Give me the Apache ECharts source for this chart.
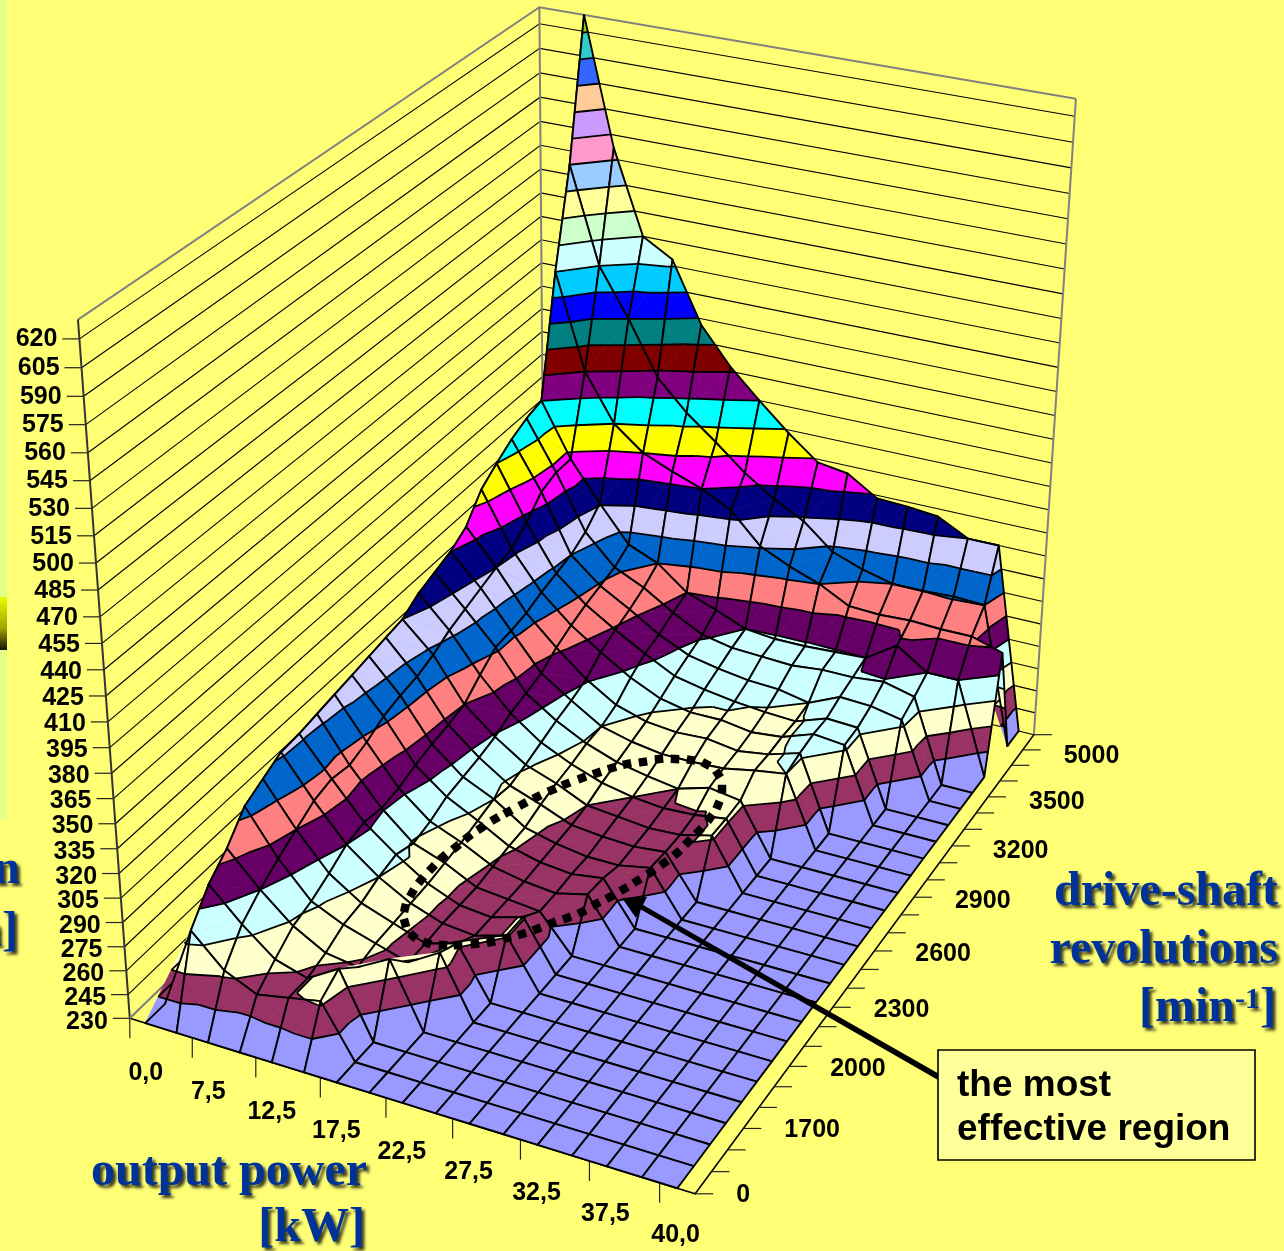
<!DOCTYPE html><html><head><meta charset="utf-8">
<style>html,body{margin:0;padding:0;background:#FFFF75}#c{width:1284px;height:1251px}</style>
<script src="https://cdn.jsdelivr.net/npm/echarts@6/dist/echarts.min.js"></script></head><body><div id="c"></div>
<script>
const powerLabels=['0,0','7,5','12,5','17,5','22,5','27,5','32,5','37,5','40,0'];
const rpmLabels=['0','1700','2000','2300','2600','2900','3200','3500','5000'];
const levelLabels=[230,245,260,275,290,305,320,335,350,365,380,395,410,425,440,455,470,485,500,515,530,545,560,575,590,605,620];
const bandColors=['#9999FF','#993366','#FFFFCC','#CCFFFF','#660066','#FF8080','#0066CC','#CCCCFF','#000080','#FF00FF','#FFFF00','#00FFFF','#800080','#800000','#008080','#0000FF','#00CCFF','#CCFFFF','#CCFFCC','#FFFF99','#99CCFF','#FF99CC','#CC99FF','#FFCC99','#3366FF','#33CCCC','#99CC00'];
// specific consumption per drive-shaft row (low rpm first), one value per output-power column
const row00=[230,230,230,230,230,230,230,230,230,230,230,230,230,230,230,230,230];
const row01=[230,282,263,254,258,262,230,230,230,230,230,230,230,230,230,230,230];
const row02=[230,299,280,264,258,270,230,230,230,230,230,230,230,230,230,230,230];
const row03=[230,310,290,273,262,259,270,230,230,230,230,230,230,230,230,230,230];
const row04=[230,325,298,277,268,262,256,268,230,230,230,230,230,230,230,230,230];
const row05=[230,331,305,283,270,263,256,262,230,230,230,230,230,230,230,230,230];
const row06=[230,337,312,290,275,264,257,255,261,230,230,230,230,230,230,230,230];
const row07=[230,338,315,293,278,265,257,255,261,230,230,230,230,230,230,230,230];
const row08=[230,340,313,291,274,267,257,255,253,230,230,230,230,230,230,230,230];
const row09=[230,342,317,293,277,269,259,255,253,258,230,230,230,230,230,230,230];
const row10=[230,344,323,297,282,272,261,256,254,257,230,230,230,230,230,230,230];
const row11=[230,346,326,300,284,275,262,257,254,254,258,230,230,230,230,230,230];
const row12=[230,348,328,302,286,273,266,258,256,255,257,230,230,230,230,230,230];
const row13=[230,350,332,305,289,276,269,260,258,256,257,262,230,230,230,230,230];
const row14=[230,357,338,314,294,280,271,264,260,258,259,262,230,230,230,230,230];
const row15=[230,361,342,322,297,284,274,267,263,260,266,263,230,230,230,230,230];
const row16=[230,365,346,323,300,287,275,270,267,267,268,272,275,230,230,230,230];
const row17=[230,372,350,325,307,291,279,273,271,272,269,272,278,230,230,230,230];
const row18=[230,387,353,329,312,299,287,278,274,274,271,273,280,278,230,230,230];
const row19=[230,395,361,332,316,304,293,283,279,276,274,273,280,279,230,230,230];
const row20=[230,402,372,335,319,308,296,287,283,280,279,275,284,283,279,230,230];
const row21=[230,407,376,341,322,313,301,291,287,286,285,287,287,289,284,230,230];
const row22=[230,410,376,351,328,320,305,298,290,288,288,289,290,303,290,290,230];
const row23=[230,485,425,395,380,372,365,355,336,327,320,310,309,310,309,309,303];
const row24=[230,545,485,455,421,402,387,371,358,348,332,325,320,320,321,320,230];
const row25=[230,630,552,500,489,451,428,410,393,378,375,363,362,360,350,350,230];
const zRows=[row00,row01,row02,row03,row04,row05,row06,row07,row08,row09,row10,row11,row12,row13,row14,row15,row16,row17,row18,row19,row20,row21,row22,row23,row24,row25];
const NX=17,NY=26,ZMIN=230,ZTOP=630;
const wz=z=>(z-230)/400;
const calib=[[0,0,0,130,1022],[1,0,0,695,1190],[1,1,0,1035,737],[0,1,0,544,607],[0,0,1,78,318],[1,1,1,1076,97],[0,1,1,539,8],
[0,0,wz(620),80,337],[0,0,wz(425),106,697],[0,1,wz(620),539,25],[0,1,wz(410),542,358],[1,1,wz(365),1048,534],[8/17,0,0,387,1100],[1,12/25,0,873,953],[1,3/25,0,742,1127]];
function solveCam(){const n=11,A=Array.from({length:n},()=>new Array(n+1).fill(0));
 const add=(r,b)=>{for(let a=0;a<n;a++){for(let c=0;c<n;c++)A[a][c]+=r[a]*r[c];A[a][n]+=r[a]*b;}};
 for(const [u,v,w,x,y] of calib){const X=x/1000,Y=y/1000;add([u,v,w,1,0,0,0,0,-X*u,-X*v,-X*w],X);add([0,0,0,0,u,v,w,1,-Y*u,-Y*v,-Y*w],Y);}
 for(let a=0;a<n;a++){let m=a;for(let r=a+1;r<n;r++)if(Math.abs(A[r][a])>Math.abs(A[m][a]))m=r;[A[a],A[m]]=[A[m],A[a]];
  for(let r=0;r<n;r++)if(r!==a){const f=A[r][a]/A[a][a];for(let c=a;c<=n;c++)A[r][c]-=f*A[a][c];}}
 return A.map((r,a)=>r[n]/r[a]);}
const cam=solveCam();
function project(u,v,w){const d=cam[8]*u+cam[9]*v+cam[10]*w+1;return[1000*(cam[0]*u+cam[1]*v+cam[2]*w+cam[3])/d,1000*(cam[4]*u+cam[5]*v+cam[6]*w+cam[7])/d];}
const U=i=>(i+.5)/NX,V=j=>j/(NY-1),W=z=>(z-ZMIN)/(ZTOP-ZMIN);
function clip(poly,L,H){let out=poly;const c=(pts,inside,t)=>{const o=[];for(let k=0;k<pts.length;k++){const a=pts[k],b=pts[(k+1)%pts.length],ia=inside(a[3]),ib=inside(b[3]);if(ia)o.push(a);if(ia!==ib){const s=(t-a[3])/(b[3]-a[3]);o.push([a[0]+s*(b[0]-a[0]),a[1]+s*(b[1]-a[1]),a[2]+s*(b[2]-a[2]),t]);}}return o;};
 out=c(out,z=>z>=L,L);if(out.length)out=c(out,z=>z<=H,H);return out;}
const cells=[];for(let j=NY-2;j>=0;j--)for(let i=0;i<NX-1;i++)cells.push([i,j,zRows[j][i],zRows[j][i+1],zRows[j+1][i+1],zRows[j+1][i]]);
function renderCell(params,api){const i=api.value(0),j=api.value(1),z=[api.value(2),api.value(3),api.value(4),api.value(5)];
 const V3=[[U(i),V(j),W(z[0]),z[0]],[U(i+1),V(j),W(z[1]),z[1]],[U(i+1),V(j+1),W(z[2]),z[2]],[U(i),V(j+1),W(z[3]),z[3]]];
 const S=q=>api.coord(project(q[0],q[1],q[2]));const ch=[];
 const tris=[[V3[3],V3[0],V3[2]],[V3[0],V3[1],V3[2]]];
 for(const tri of tris){
  for(let b=0;b<bandColors.length;b++){const L=ZMIN+15*b;const mn=Math.min(tri[0][3],tri[1][3],tri[2][3]),mx=Math.max(tri[0][3],tri[1][3],tri[2][3]);if(mx<L||mn>L+15)continue;if(b>0&&mx===L)continue;if(mn===L+15)continue;
   const pg=clip(tri,L,L+15);if(pg.length<3)continue;const c=bandColors[b];ch.push({type:'polygon',shape:{points:pg.map(S)},style:{fill:c,stroke:c,lineWidth:.6}});}
 }
 for(const tri of tris){
  for(let b=1;b<bandColors.length;b++){const L=ZMIN+15*b;const pts=[];for(let k=0;k<3;k++){const a=tri[k],c=tri[(k+1)%3];if((a[3]<L)!==(c[3]<L)){const s=(L-a[3])/(c[3]-a[3]);pts.push(S([a[0]+s*(c[0]-a[0]),a[1]+s*(c[1]-a[1]),a[2]+s*(c[2]-a[2])]));}}
   if(pts.length===2)ch.push({type:'line',shape:{x1:pts[0][0],y1:pts[0][1],x2:pts[1][0],y2:pts[1][1]},style:{stroke:'#000',lineWidth:1.8}});}
 }
 ch.push({type:'polygon',shape:{points:V3.map(S)},style:{fill:'none',stroke:'#000',lineWidth:1.9,lineJoin:'round'}});
 return{type:'group',children:ch,z2:params.dataIndex};}
function renderWalls(params,api){const k=api.value(0),w=W(k),ch=[];
 const a=api.coord(project(0,0,w)),d=api.coord(project(0,1,w)),c=api.coord(project(1,1,w));
 const top=k===ZTOP;ch.push({type:'polyline',shape:{points:[a,d,c]},style:{fill:'none',stroke:top?'#808080':'#000',lineWidth:top?2:1.1}});
 if(!top){ch.push({type:'line',shape:{x1:a[0],y1:a[1],x2:a[0]-17,y2:a[1]},style:{stroke:'#222',lineWidth:1.2}});
  ch.push({type:'text',style:{x:a[0]-22,y:a[1]+4-w*4,text:String(k),textAlign:'right',textVerticalAlign:'middle',font:'bold 25px "Liberation Sans"',fill:'#000'}});}
 return{type:'group',children:ch};}
function renderVerticals(params,api){const u=api.value(0),v=api.value(1);const p=api.coord(project(u,v,0)),q=api.coord(project(u,v,1));
 return{type:'line',shape:{x1:p[0],y1:p[1],x2:q[0],y2:q[1]},style:{stroke:api.value(2)?'#333':'#808080',lineWidth:2}};}
function renderFloor(params,api){const a=api.coord(project(0,0,0)),b=api.coord(project(1,0,0)),c=api.coord(project(1,1,0)),d=api.coord(project(0,1,0));
 const ch=[{type:'polyline',shape:{points:[a,b,c]},style:{fill:'none',stroke:'#000',lineWidth:1.5}},{type:'line',shape:{x1:a[0],y1:a[1],x2:d[0],y2:d[1]},style:{stroke:'#808080',lineWidth:2}}];
 for(let k=0;k<powerLabels.length;k++){const p=api.coord(project(2*k/NX,0,0));ch.push({type:'line',shape:{x1:p[0],y1:p[1],x2:p[0],y2:p[1]+20},style:{stroke:'#222',lineWidth:1.2}});
  ch.push({type:'text',style:{x:p[0]+16,y:p[1]+55-k*.3,text:powerLabels[k],textAlign:'center',textVerticalAlign:'middle',font:'bold 25px "Liberation Sans"',fill:'#000'}});}
 for(let k=0;k<NY;k++){const p=api.coord(project(1,k/(NY-1),0));ch.push({type:'line',shape:{x1:p[0],y1:p[1],x2:p[0]+18,y2:p[1]},style:{stroke:'#222',lineWidth:1.2}});
  if(k%3===0&&rpmLabels[k/3]!==undefined)ch.push({type:'text',style:{x:p[0]+41,y:p[1]+1+k*.22,text:rpmLabels[k/3],textAlign:'left',textVerticalAlign:'middle',font:'bold 25px "Liberation Sans"',fill:'#000'}});}
 return{type:'group',children:ch};}
const dotted=[[405,923],[413,936],[427,943],[443,945],[458,945],[475,944],[491,942],[507,938],[522,934],[537,929],[552,923],[567,918],[582,912],[596,904],[610,897],[624,889],[637,881],[651,872],[664,863],[677,853],[688,842],[699,831],[710,818],[718,805],[722,789],[718,774],[706,764],[691,760],[675,759],[659,759],[643,762],[627,764],[612,768],[597,773],[582,778],[566,784],[552,790],[537,797],[523,804],[508,812],[495,819],[481,828],[468,837],[456,847],[443,857],[432,868],[421,880],[412,893],[405,908]];
const dotAngle=(v,p)=>{const n=dotted.length,a=dotted[(p.dataIndex+n-1)%n],b=dotted[(p.dataIndex+1)%n];return -Math.atan2(b[1]-a[1],b[0]-a[0])*180/Math.PI;};
const T='Liberation Serif',ts={fontFamily:T,fontWeight:'bold',fontSize:48,fill:'#003399',textShadowColor:'rgba(0,0,0,.75)',textShadowBlur:3,textShadowOffsetX:3,textShadowOffsetY:3};
const txt=(x,y,s)=>({type:'text',x,y,silent:true,style:Object.assign({text:s,textAlign:'right',textVerticalAlign:'middle'},ts)});
const chart=echarts.init(document.getElementById('c'),null,{renderer:'canvas'});
chart.setOption({animation:false,backgroundColor:'#FFFF75',
 grid:{left:0,right:0,top:0,bottom:0},xAxis:{type:'value',min:0,max:1284,show:false},yAxis:{type:'value',min:0,max:1251,inverse:true,show:false},
 graphic:[
  {type:'rect',shape:{x:0,y:0,width:7,height:820},style:{fill:'#E2FF88'},silent:true},
  {type:'rect',shape:{x:0,y:597,width:7,height:53},style:{fill:new echarts.graphic.LinearGradient(0,0,0,1,[{offset:0,color:'#E8FF00'},{offset:.6,color:'#A0A000'},{offset:1,color:'#111'}])},silent:true},
  txt(20,871,'consumption'),txt(18,933,'[g/kWh]'),txt(367,1173,'output power'),txt(365,1229,'[kW]'),txt(1278,893,'drive-shaft'),txt(1278,951,'revolutions'),
  {type:'text',x:1276,y:1009,silent:true,style:{text:'{a|[min}{s|-1}{a|]}',textAlign:'right',textVerticalAlign:'middle',rich:{a:Object.assign({},ts),s:Object.assign({},ts,{fontSize:30,verticalAlign:'top',padding:[0,0,14,0]})}}},
  {type:'rect',z:50,shape:{x:938,y:1050,width:317,height:110},style:{fill:'#FFFF99',stroke:'#000',lineWidth:1.6},silent:true},
  {type:'text',z:51,x:957,y:1086,silent:true,style:{text:'the most',font:'bold 37px "Liberation Sans"',fill:'#000',textVerticalAlign:'middle'}},
  {type:'text',z:51,x:957,y:1130,silent:true,style:{text:'effective region',font:'bold 37px "Liberation Sans"',fill:'#000',textVerticalAlign:'middle'}},
  {type:'polygon',z:40,shape:{points:[[938,1080],[640,909],[636,918],[622,898],[647,897],[643,905],[941,1075]]},style:{fill:'#000'},silent:true}
 ],
 series:[
  {type:'custom',coordinateSystem:'cartesian2d',silent:true,z:2,data:levelLabels.concat([ZTOP]).map(v=>[v]),renderItem:renderWalls,clip:false},
  {type:'custom',coordinateSystem:'cartesian2d',silent:true,z:3,data:[[0,0,1],[0,1,0],[1,1,0]],renderItem:renderVerticals,clip:false},
  {type:'custom',coordinateSystem:'cartesian2d',silent:true,z:4,data:[[0]],renderItem:renderFloor,clip:false},
  {type:'custom',coordinateSystem:'cartesian2d',silent:true,z:5,data:cells,renderItem:renderCell,progressive:0,clip:false},
  {type:'scatter',coordinateSystem:'cartesian2d',silent:true,z:6,symbol:'rect',symbolSize:8.5,symbolRotate:dotAngle,itemStyle:{color:'#000',opacity:1},data:dotted}
 ]});
</script></body></html>
